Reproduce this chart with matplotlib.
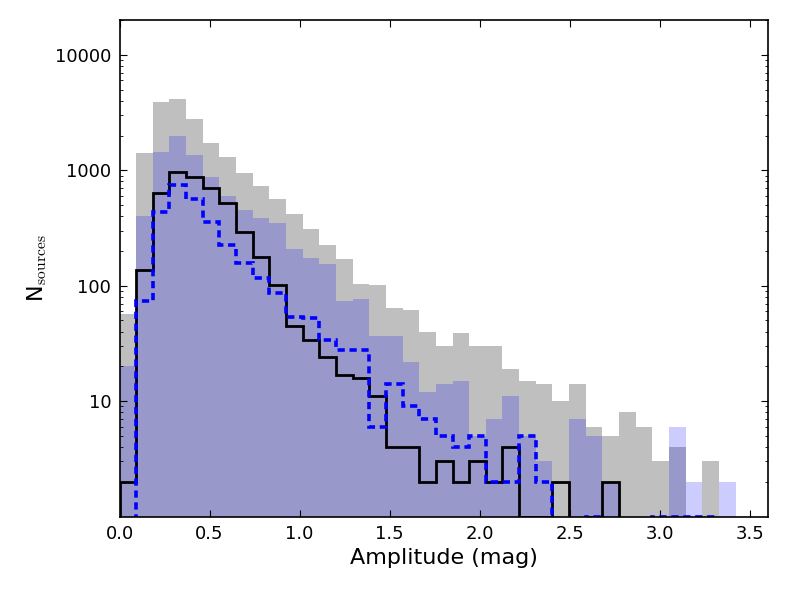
import numpy as np
import matplotlib
matplotlib.use('Agg')
import matplotlib.pyplot as plt

# bin edges (37 bins from 0 to 3.42 mag)
edges = np.linspace(0.0, 3.42, 38)

# full sample (grey)
n_all = [57, 1420, 3870, 4140, 2756, 1740, 1300, 955, 733, 565,
         416, 310, 224, 169, 103, 101, 64, 62, 40, 30,
         39, 30, 30, 19, 15, 14, 10, 14, 6, 5,
         8, 6, 3, 4, 0, 3, 0]
# subsample (blue filled)
n_sub = [20, 405, 1430, 1980, 1368, 877, 600, 456, 388, 352,
         207, 173, 155, 74, 76, 37, 37, 22, 12, 14,
         15, 5, 7, 11, 5, 3, 0, 7, 5, 2,
         0, 0, 0, 6, 2, 0, 2]
# black step
n_black = [2, 136, 633, 975, 882, 708, 518, 292, 179, 102,
           45, 34, 24, 17, 16, 11, 4, 4, 2, 3,
           2, 3, 2, 4, 1, 1, 2, 0, 1, 2,
           0, 0, 0, 0, 0, 0, 0]
# blue dashed step
n_dash = [0, 73, 438, 743, 561, 359, 225, 157, 117, 87,
          54, 52, 34, 28, 28, 6, 14, 9, 7, 5,
          4, 5, 2, 2, 5, 2, 0, 0, 1, 0,
          0, 0, 1, 1, 1, 1, 0]

plt.rcParams['mathtext.fontset'] = 'cm'
plt.rcParams['font.family'] = 'DejaVu Sans'

centers = 0.5 * (edges[:-1] + edges[1:])

fig = plt.figure(figsize=(7.89, 5.92), dpi=100)
ax = fig.add_axes([0.1515, 0.1275, 0.8219, 0.8385])

ax.hist(centers, bins=edges, weights=n_all, histtype='stepfilled',
        color='k', alpha=0.25, lw=0, log=True)
ax.hist(centers, bins=edges, weights=n_sub, histtype='stepfilled',
        color='b', alpha=0.2, lw=0, log=True)
ax.hist(centers, bins=edges, weights=n_black, histtype='step',
        color='k', lw=2, log=True)
ax.hist(centers, bins=edges, weights=n_dash, histtype='step',
        color='b', lw=2.6, linestyle=(0, (2.0, 1.3)), log=True)

ax.set_xlim(0, 3.6)
ax.set_ylim(1, 20000)
ax.set_xticks([0.0, 0.5, 1.0, 1.5, 2.0, 2.5, 3.0, 3.5])
ax.set_yticks([10, 100, 1000, 10000])
ax.set_yticklabels(['10', '100', '1000', '10000'])

ax.tick_params(which='both', direction='in', top=True, right=True,
               labelsize=13, pad=6)
ax.tick_params(which='major', length=5, width=0.8)
ax.tick_params(which='minor', length=2.5, width=0.6)
for s in ax.spines.values():
    s.set_linewidth(1.2)

ax.set_xlabel('Amplitude (mag)', fontsize=16)
ax.set_ylabel(r'N$_{\rm sources}$', fontsize=16)

fig.savefig('out.png', dpi=100)
